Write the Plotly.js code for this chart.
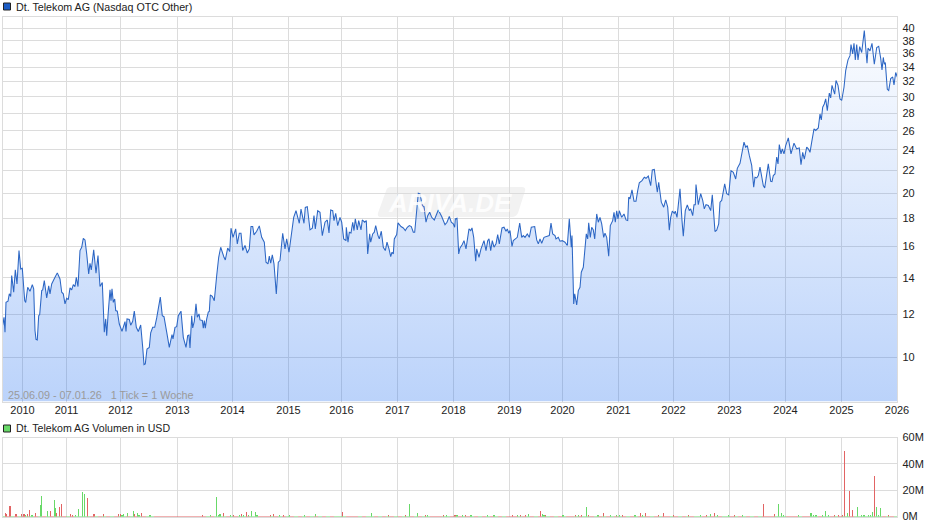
<!DOCTYPE html>
<html><head><meta charset="utf-8">
<script src="https://cdn.plot.ly/plotly-3.0.1.min.js"></script>
<style>html,body{margin:0;padding:0;background:#fff}#c{width:940px;height:526px}</style>
</head><body><div id="c"></div>
<script>
// x unit = one chart tick position along the ordinal (trading-week) axis
const yearLabels = ["2010","2011","2012","2013","2014","2015","2016","2017","2018","2019","2020","2021","2022","2023","2024","2025","2026"];
const yearTicks  = [22.5,66.5,120.5,177.5,232.5,288.5,341.5,397.5,453.5,509.5,562.5,618.5,673.5,729.5,785.5,841.5,897];
const priceTicks = [10,12,14,16,18,20,22,24,26,28,30,32,34,36,38,40];
const volumeTicks = [0,20,40,60];
const volumeLabels = ["0M","20M","40M","60M"];
const axisMinUSD = 8.31, axisMaxUSD = 42.1;

const priceX = [2.7,4,5,6,8,9.3,10.7,11.7,13.7,15.3,17,19,20.7,22.3,24.7,25.7,27.7,30,32.3,33.7,35,36,37.3,38.7,39.7,41.7,42.7,44.3,46.7,48.7,50,51.7,55,57.3,60,61.7,63.3,65,66.7,68.3,70,71.7,73.3,75,76.3,78,80,81.7,83.3,85,86.7,88.7,90,91.3,93.7,96,98,100,102.3,104.3,105.7,106.7,108,110,111,112,113.3,114.7,115.7,117.3,119.3,122,125,126,127,129.3,130.7,132.7,134.3,136.3,138.3,139.3,140.7,142.7,144,145.3,147,149.3,150.7,152.7,154.7,156.7,158.7,160.3,162.3,164,166.7,169.3,172,173,175,176.7,178.3,181,183.3,185,186,187.7,189,190,191.7,192.7,194.3,196,197.3,199,200,202.3,203.3,204.3,205.3,206.7,208.3,209.3,210.3,212.3,214.3,216.7,218.7,220.7,222,224,225.3,227.7,229.7,231,233,235.7,237.3,239.3,241,242.7,245,247.3,249.3,251,252.7,254,256.7,259.3,261.7,264.3,266,268,269.3,270.7,272.3,274,276.3,278.3,280,282.7,285,286.7,289,291.7,293.7,296,297.7,299.3,301,302.7,304,305.3,307.3,310,312.3,314,315.3,317.7,
320,322.3,325,327.3,329,330.7,332.7,334,335.7,337.7,340,341.7,343.7,346,346.3,348,349.3,351,352.7,354,355.3,357.3,358.7,361,362.3,364.7,366.3,367.7,369.7,370.7,372.7,374.3,375.7,378,379.3,381.3,383.3,385.3,387,389,390.7,392,393.3,394.3,396.7,398,401,403.3,405.3,407.3,409.3,411.3,413.3,414.7,416.7,418.3,420,422.3,424,426,427.7,429.7,431.7,434.3,438.3,441.7,445,447,449.3,451.3,453.3,454.7,455.3,457,458.7,460,462.3,464,466,469,470.7,472,473.7,475.7,476.7,479,481,482.3,484,486,487.7,489,490.7,492.3,494,496,497.7,499.3,502,504,506,507.3,508.7,510,512,513.3,515.7,517.3,519.7,521.7,523.3,525,527.3,529.3,531.3,534.7,536.7,538.3,540,541.7,544,546.7,549.3,551,552.7,555,556,558.3,560,562.3,565,567.3,569.3,571.3,572,573.7,574.7,576.7,578.3,580,581.3,583.3,585,586.3,587.7,588.7,590.3,591.7,593.3,594.7,596.7,598.3,600,601.7,603.7,605,606.7,608.7,610.3,612.7,614,615.3,616.7,618,619.3,621.7,624,626,627.7,628.7,630,632,634,636,637.7,639.3,
642,644.3,646,648.3,650.7,652.3,654.3,656,657.3,658.7,661.3,663.7,665.7,667.7,669.3,670.7,672.3,674.3,675.3,677,680,682,683.3,685.3,687.3,689.3,690.7,692.7,694,695.3,696,698.3,700.7,702.7,704.3,706,708.3,710.7,712.3,715,716.7,718.7,720,721.7,724.7,726.7,728.7,731,733.3,735.7,737.3,740,742,744,745.7,747.3,749.3,751.7,753.7,755,756.7,758.3,760,761.7,763.3,764.7,766.7,768.3,770.7,772,773.3,775,776.7,778,779.3,781,782.3,784,785.7,788.3,791,794,796.7,799.3,801,802.7,804.3,806.7,808.3,810,811.7,814,815.7,818.3,820,821.3,822.7,824.3,825.7,827.3,829.3,830.7,832,833.3,834.7,836,838,840,841.7,844,845.7,848,850,851,852.7,854,855.3,856.7,858,859.7,861.7,864.3,867,868,870,872,874.3,876.7,878.7,880.7,882,883.3,884.3,885.3,887.3,888.7,890.7,892.7,894,895.7,897.3];
const priceUSD = [11.46,11.85,11.13,12.62,12.68,13.08,12.94,14.13,13.17,14.47,13.64,15.70,14.53,14.57,12.71,12.62,13.45,13.22,13.60,13.36,11.21,10.80,10.77,11.93,11.99,13.26,13.30,13.83,12.86,13.53,13.08,13.64,14.03,14.29,13.93,13.17,13.08,12.54,12.84,12.77,13.41,13.30,13.60,13.49,14.03,13.49,15.70,15.92,16.53,16.42,15.48,14.23,14.88,14.47,15.75,14.27,15.37,13.49,13.72,11.13,11.77,10.97,11.93,13.30,12.71,13.36,12.62,12.80,12.19,12.16,11.52,11.17,11.64,11.16,11.77,11.74,11.46,11.65,12.17,11.36,11.16,11.28,11.47,10.44,9.71,9.74,10.37,10.44,11.10,11.36,11.36,11.82,12.36,12.90,11.93,11.88,11.13,10.44,11.02,10.82,11.36,11.39,11.93,12.16,10.89,10.52,10.44,10.97,11.00,10.41,11.93,11.33,11.65,12.54,11.85,12.02,11.72,11.69,11.32,11.69,11.32,11.77,12.11,12.14,13.02,12.94,12.71,14.13,15.26,15.92,15.59,15.26,15.09,15.87,15.63,17.25,16.60,17.20,16.15,16.89,16.89,15.70,16.04,15.54,15.81,17.37,17.37,16.77,17.03,17.42,16.60,16.26,14.95,14.84,15.33,14.88,15.42,14.84,13.08,14.95,15.05,16.89,15.81,16.49,15.59,16.96,18.05,18.57,18.14,17.61,18.70,18.19,17.61,18.83,18.89,17.13,17.25,18.19,17.20,18.57,
18.45,16.72,17.69,17.86,16.91,18.63,18.57,17.81,18.37,17.44,18.06,17.69,16.49,16.37,17.32,16.26,16.96,16.91,17.69,17.08,17.94,17.13,17.81,17.13,17.86,17.69,17.81,15.48,16.84,16.26,16.84,16.96,17.44,16.72,16.49,17.03,15.92,15.70,16.26,15.81,15.30,15.59,15.48,16.49,16.79,17.64,17.37,17.27,17.08,17.32,17.44,17.37,16.96,16.96,18.57,19.99,19.93,18.97,18.89,17.69,18.19,18.45,18.06,17.86,18.63,18.12,17.51,17.69,18.12,17.69,17.57,17.32,17.94,17.99,15.48,15.87,16.10,16.37,15.81,17.20,17.08,17.27,16.60,15.01,15.81,15.26,15.81,16.10,16.37,15.70,16.37,16.49,15.70,16.37,15.92,16.15,16.79,16.15,17.27,17.32,17.03,17.20,16.89,17.08,15.97,16.37,16.49,16.60,17.62,16.60,16.72,16.60,16.84,16.60,17.32,17.37,16.42,16.15,16.49,16.19,16.60,16.65,16.72,17.62,16.84,16.72,16.49,16.60,16.33,16.37,16.26,16.04,17.94,15.92,16.72,12.54,13.08,12.48,13.26,13.45,14.33,14.63,15.70,16.84,16.49,17.64,16.60,17.32,17.13,16.49,18.32,17.69,18.06,17.57,16.60,16.89,16.60,15.33,17.44,17.81,18.45,17.69,18.57,17.94,18.57,18.06,18.32,17.86,17.81,19.66,19.52,20.27,19.33,19.33,20.21,20.88,
21.08,21.38,21.29,21.49,20.64,22.05,22.10,20.79,20.07,20.94,19.25,18.85,19.43,18.85,17.11,18.06,18.53,18.37,18.53,18.06,20.36,17.81,16.67,18.58,19.03,18.58,18.71,18.19,19.05,19.05,20.74,19.05,19.96,19.39,18.71,19.05,18.98,18.58,19.85,17.01,17.11,17.57,19.25,19.39,20.79,19.96,19.85,21.99,21.84,21.23,22.20,22.68,23.75,24.79,24.27,24.44,23.44,22.48,20.50,21.38,21.32,21.53,22.32,21.38,20.64,20.44,21.84,22.62,21.02,20.99,21.53,21.68,23.28,22.62,24.55,23.59,24.10,23.59,24.44,25.24,23.59,24.68,24.10,24.20,22.55,23.75,23.08,24.27,24.10,23.75,24.79,26.21,26.04,26.32,27.92,27.22,28.72,29.12,29.75,28.32,30.48,29.88,31.50,30.97,30.35,32.15,31.50,29.75,29.55,31.24,33.52,35.07,35.70,37.40,35.96,37.61,35.07,37.40,35.07,37.08,36.18,39.67,34.57,36.84,36.43,37.61,34.43,36.95,37.14,35.28,33.62,35.43,34.43,34.66,30.97,30.83,32.40,32.63,31.55,33.25,32.62];

const volRedX = [5.3,6.7,9.3,10.3,16,21.3,24,27.7,29.3,35.3,50.3,56.7,59.3,61.3,70.3,72.7,87.3,94,103.3,118.3,120.7,134.7,141.3,202.3,223.3,233.3,241.7,246.3,270.7,273.3,283.7,342.3,388.3,405.7,425.3,443.3,455,465.3,512.3,520.3,525.3,540.3,545.7,575.3,581.3,588.7,603.3,622.3,640.3,645.3,658.7,663.3,673.3,688.3,706.7,714.3,734.3,763.3,774.3,834.3,838.3,842.3,844.3,849.3,852.3,874.3,888.3];
const volRedM = [2.3,1.8,7.9,7.9,1.8,1.8,1.8,1.8,4.9,2.3,4.1,2.3,6.9,9.5,1.8,1.0,14.1,1.8,1.8,1.8,1.8,1.8,2.6,1.0,2.3,1.0,1.8,3.3,1.0,1.8,1.0,3.3,.8,.8,.8,.8,.8,1.0,1.0,1.0,1.5,4.1,1.0,.8,1.5,1.0,2.6,.8,2.6,2.3,.8,2.3,.8,.8,1.0,2.6,.8,9.5,1.8,.8,1.0,1.0,49.4,19.5,4.9,31.0,.8];
const volGreenX = [25.3,32,40.7,41.3,47.3,54.3,55.3,75.3,78.3,82.3,84.3,122,123.3,127.3,133.3,137.3,139,150,210.7,216.3,218.7,220,230.7,239.7,243.3,248.3,251.3,255.3,257,279.3,289.3,304.3,315.3,371.3,409.3,417.3,427.3,446.7,457,462.3,471,487.3,494,517.3,528.3,542.7,544,563,578.3,586.3,598,610.3,616.3,619.3,635,642.7,700.7,710.7,717.3,728.3,742.3,778.3,781.3,783.3,798.3,811,813.3,816,822.3,825.3,828.3,847.3,857.3,861.7,864,868.7,870.3,872.3,876.3,878.3,880.3];
const volGreenM = [1.0,1.0,8.7,15.6,4.1,12.5,6.1,1.0,5.6,18.7,17.2,1.3,1.8,2.3,4.1,2.3,1.0,1.0,1.0,14.8,1.3,2.0,1.0,1.3,1.3,1.0,4.1,3.3,1.3,1.0,.8,.8,1.8,2.3,9.5,2.3,1.5,.8,1.0,1.0,.8,.8,.8,.8,1.8,1.8,1.5,.8,.8,7.2,1.0,.8,.8,.8,.8,1.0,.8,1.8,1.3,1.3,.8,9.5,2.3,.8,.8,2.3,1.0,.8,.8,4.1,1.5,2.3,6.9,1.0,1.0,1.5,1.0,3.3,6.9,1.0,6.1];
// quiet weeks: the bars are too short to tell apart, each read as about this volume (M)
const quietVolumeM = 0.7;
const quietRedX = [8,16,24,36,44,52,64,72,92,100,108,116,128,136,144,156,160,164,168,172,176,180,184,188,192,196,200,204,212,228,236,248,260,264,268,276,284,292,300,308,316,324,332,348,352,356,364,376,384,392,400,412,420,432,436,440,452,460,468,476,484,492,500,508,512,516,524,532,540,552,560,568,572,580,592,600,608,616,624,632,640,648,656,664,668,676,684,692,704,712,720,732,740,748,756,764,768,772,788,792,796,804,808,820,832,840,852,884,892];
const quietGreenX = [4,12,20,28,32,40,48,56,60,68,76,80,84,88,96,104,112,120,124,132,140,148,152,208,216,220,224,232,240,244,252,256,272,280,288,296,304,312,320,328,336,340,344,360,368,372,380,388,396,404,408,416,424,428,444,448,456,464,472,480,488,496,504,520,528,536,544,548,556,564,576,584,588,596,604,612,620,628,636,644,652,660,672,680,688,696,700,708,716,724,728,736,744,752,760,776,780,784,800,812,816,824,828,836,844,848,856,860,864,868,872,876,880,888,896];

const GRID = "#dcdcdc", RED = "#e26464", GREEN = "#68d968", LINE = "#2c66c4";
const W = 940, H = 526;
const fx = p => p / W, fy = p => 1 - p / H;
const xRange = [2.5, 897.3];

const traces = [
  {x: [priceX[0], priceX[priceX.length - 1]], y: [axisMinUSD, axisMinUSD], type: "scatter", mode: "lines", line: {width: 0}, xaxis: "x", yaxis: "y", hoverinfo: "skip"},
  {x: priceX, y: priceUSD, type: "scatter", mode: "lines", xaxis: "x", yaxis: "y",
   line: {color: LINE, width: 1.05}, fill: "tonexty",
   fillgradient: {type: "vertical", colorscale: [[0, "rgba(35,112,240,0.31)"], [1, "rgba(35,112,240,0.02)"]]},
   hoverinfo: "skip"},
  {x: quietRedX, y: quietRedX.map(() => quietVolumeM), type: "bar", width: 4, xaxis: "x2", yaxis: "y2", marker: {color: RED, line: {width: 0}}},
  {x: quietGreenX, y: quietGreenX.map(() => quietVolumeM), type: "bar", width: 4, xaxis: "x2", yaxis: "y2", marker: {color: GREEN, line: {width: 0}}},
  {x: volRedX, y: volRedM, type: "bar", width: 1.2, xaxis: "x2", yaxis: "y2", marker: {color: RED, line: {width: 0}}},
  {x: volGreenX, y: volGreenM, type: "bar", width: 1.2, xaxis: "x2", yaxis: "y2", marker: {color: GREEN, line: {width: 0}}}
];

const tickFont = {family: "Liberation Sans, Arial, sans-serif", size: 11, color: "#222"};
const labelFont = {family: tickFont.family, size: 10.7, color: "#222"};
const axisBase = {showgrid: true, gridcolor: GRID, gridwidth: 1, zeroline: false, showline: true, linecolor: GRID, linewidth: 1, mirror: true, ticks: "", fixedrange: true};

const layout = {
  width: W, height: H, paper_bgcolor: "#fff", plot_bgcolor: "#fff", showlegend: false, barmode: "overlay", bargap: 0,
  margin: {l: 0, r: 0, t: 0, b: 0},
  font: tickFont,
  xaxis: {...axisBase, domain: [fx(2.5), fx(897.3)], range: xRange, anchor: "y", tickmode: "array", tickvals: yearTicks, ticktext: yearLabels, tickfont: tickFont, tickangle: 0, ticklabelstandoff: -2},
  yaxis: {...axisBase, domain: [fy(401.5), fy(16.5)], type: "log", range: [Math.log10(axisMinUSD), Math.log10(axisMaxUSD)], side: "right", anchor: "x", tickmode: "array", tickvals: priceTicks, ticktext: priceTicks.map(String), tickfont: tickFont, ticklabelstandoff: 2},
  xaxis2: {...axisBase, domain: [fx(2.5), fx(897.3)], range: xRange, anchor: "y2", tickmode: "array", tickvals: yearTicks, showticklabels: false},
  yaxis2: {...axisBase, domain: [fy(516.5), fy(437.5)], range: [0, 60], side: "right", anchor: "x2", tickmode: "array", tickvals: volumeTicks, ticktext: volumeLabels, tickfont: tickFont, ticklabelstandoff: 2},
  shapes: [
    {type: "path", xref: "paper", yref: "paper", layer: "below", fillcolor: "#f2f2f2", line: {width: 0},
     path: `M ${fx(391)} ${fy(187)} L ${fx(522)} ${fy(187)} Q ${fx(526)} ${fy(187)} ${fx(525)} ${fy(191)} L ${fx(518)} ${fy(213)} Q ${fx(516)} ${fy(217)} ${fx(512)} ${fy(217)} L ${fx(381)} ${fy(217)} Q ${fx(377)} ${fy(217)} ${fx(378)} ${fy(213)} L ${fx(386)} ${fy(191)} Q ${fx(387)} ${fy(187)} ${fx(391)} ${fy(187)} Z`},
    {type: "rect", xref: "paper", yref: "paper", x0: fx(3.5), x1: fx(10.5), y0: fy(10), y1: fy(3), fillcolor: "#1b5cc4", line: {color: "#222", width: 1}},
    {type: "rect", xref: "paper", yref: "paper", x0: fx(3.5), x1: fx(10.5), y0: fy(432), y1: fy(425), fillcolor: "#68d968", line: {color: "#222", width: 1}}
  ],
  annotations: [
    {text: "Dt. Telekom AG (Nasdaq OTC Other)", xref: "paper", yref: "paper", x: fx(13.5), y: fy(6.5), xanchor: "left", yanchor: "middle", showarrow: false, font: labelFont},
    {text: "Dt. Telekom AG Volumen in USD", xref: "paper", yref: "paper", x: fx(13.5), y: fy(428), xanchor: "left", yanchor: "middle", showarrow: false, font: {...labelFont, size: 10.6}},
    {text: "25.06.09 - 07.01.26   1 Tick = 1 Woche", xref: "paper", yref: "paper", x: fx(6), y: fy(395), xanchor: "left", yanchor: "middle", showarrow: false, font: {family: tickFont.family, size: 10.8, color: "#9a9a9a"}},
    {text: "<b><i>ARIVA.DE</i></b>", xref: "paper", yref: "paper", x: fx(450), y: fy(202.5), xanchor: "center", yanchor: "middle", showarrow: false, font: {family: tickFont.family, size: 26, color: "#ffffff"}, opacity: 0.85}
  ]
};
Plotly.newPlot("c", traces, layout, {staticPlot: true, displayModeBar: false});
</script></body></html>
